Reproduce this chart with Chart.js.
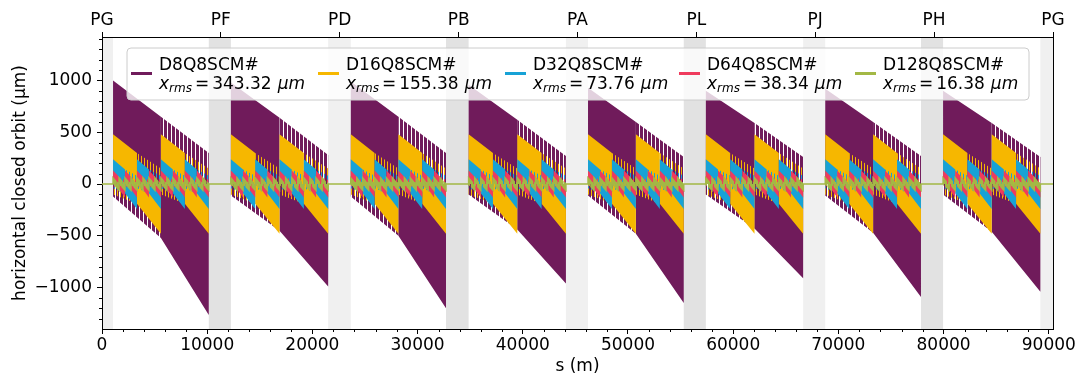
<!DOCTYPE html>
<html>
<head>
<meta charset="utf-8">
<script src="https://cdn.jsdelivr.net/npm/chart.js@4.4.1/dist/chart.umd.min.js"></script>
<style>
  html, body { margin: 0; padding: 0; background: #fff; }
  #wrap { width: 1077px; height: 375px; }
</style>
</head>
<body>
<div id="wrap"><canvas id="orbitChart"></canvas></div>
<script>
// interaction points on the ring (top axis)
const ipNames = ['PG', 'PF', 'PD', 'PB', 'PA', 'PL', 'PJ', 'PH', 'PG'];
const ipPositions = [0, 11300, 22600, 33900, 45200, 56500, 67800, 79100, 90400];
const ringLength = 90400;

// tick values of the two main axes
const xTicks = [0, 10000, 20000, 30000, 40000, 50000, 60000, 70000, 80000, 90000];
const yTicks = [-1000, -500, 0, 500, 1000];

// arcs, the straight sections between them are shaded
const arcStart = [1050, 12250, 23650, 34850, 46200, 57400, 68750, 79950];
const arcEnd = [10150, 21500, 32700, 44100, 55300, 66650, 77850, 89200];

const seriesNames = ['D8Q8SCM#', 'D16Q8SCM#', 'D32Q8SCM#', 'D64Q8SCM#', 'D128Q8SCM#'];
const xrmsValues = ['343.32', '155.38', '73.76', '38.34', '16.38'];
const seriesColors = ['#701b5b', '#f6b700', '#17a2d6', '#ef3b5d', '#a3b845'];
const periodsPerArc = [1, 2, 4, 8, 16];

// D8 orbit envelope in every arc (um)
const d8TopStart = [1000, 980, 990, 960, 930, 900, 920, 900];
const d8TopMid = [650, 640, 650, 620, 600, 590, 600, 590];
const d8TopEnd = [300, 280, 300, 270, 260, 260, 270, 260];
const d8BotStart = [-120, -110, -120, -100, -110, -100, -110, -100];
const d8BotMid = [-520, -450, -500, -440, -480, -430, -470, -460];
const d8BotEnd = [-1265, -990, -1200, -960, -1150, -910, -1090, -1040];

// other cases: same envelope in every period
// [top start, top mid, top end, bottom start, bottom mid, bottom end]
const d16Env = [480, 300, 150, -100, -190, -480];
const d32Env = [240, 140, 80, -40, -90, -240];
const d64Env = [130, 70, 40, -20, -50, -130];
const d128Env = [60, 25, 15, -15, -25, -60];

const FONT = 'DejaVu Sans';

function envFor(i, k) {
  if (i === 0) {
    return [d8TopStart[k], d8TopMid[k], d8TopEnd[k], d8BotStart[k], d8BotMid[k], d8BotEnd[k]];
  }
  return [d16Env, d32Env, d64Env, d128Env][i - 1];
}

// dense side: upper in the first half of a period, lower in the second half
function buildLines(i) {
  const dense = [{x: 0, y: 0}];
  const sparse = [{x: 0, y: 0}];
  for (let k = 0; k < arcStart.length; k++) {
    const [t0, tm, t1, b0, bm, b1] = envFor(i, k);
    const len = (arcEnd[k] - arcStart[k]) / periodsPerArc[i];
    dense.push({x: arcStart[k], y: 0});
    sparse.push({x: arcStart[k], y: 0});
    for (let j = 0; j < periodsPerArc[i]; j++) {
      const p0 = arcStart[k] + j * len;
      const pm = p0 + len / 2;
      const p1 = p0 + len;
      dense.push({x: p0, y: t0}, {x: pm, y: tm}, {x: pm, y: bm}, {x: p1, y: b1});
      sparse.push({x: p0, y: b0}, {x: pm, y: bm}, {x: pm, y: tm}, {x: p1, y: t1});
    }
    dense.push({x: arcEnd[k], y: 0});
    sparse.push({x: arcEnd[k], y: 0});
  }
  dense.push({x: ringLength, y: 0});
  sparse.push({x: ringLength, y: 0});
  return {dense, sparse};
}

// vertical stripes for the side the orbit only visits briefly
function stripes(color, on, period) {
  const c = document.createElement('canvas');
  c.width = period;
  c.height = 4;
  const g = c.getContext('2d');
  g.fillStyle = color;
  g.fillRect(0, 0, on, 4);
  return g.createPattern(c, 'repeat');
}

const stripeOn = [3, 1, 1, 1, 2];
const stripePeriod = [4, 3, 3, 3, 3];
const datasets = [];
seriesNames.forEach((name, i) => {
  const lines = buildLines(i);
  datasets.push({
    label: name + ' (sparse)',
    data: lines.sparse,
    backgroundColor: stripes(seriesColors[i], stripeOn[i], stripePeriod[i]),
    borderWidth: 0,
    fill: 'origin',
    pointRadius: 0,
    order: 20 - 2 * i
  });
  datasets.push({
    label: name,
    data: lines.dense,
    backgroundColor: seriesColors[i],
    borderColor: seriesColors[i],
    borderWidth: i === 4 ? 1.5 : 0,
    fill: 'origin',
    pointRadius: 0,
    order: 19 - 2 * i
  });
});

// shaded straight sections
const bandPlugin = {
  id: 'bands',
  beforeDraw(chart) {
    const {ctx, chartArea: a, scales: {x}} = chart;
    const gaps = [[-2000, arcStart[0]]];
    for (let k = 0; k < arcStart.length - 1; k++) gaps.push([arcEnd[k], arcStart[k + 1]]);
    gaps.push([arcEnd[arcEnd.length - 1], ringLength + 2000]);
    ctx.save();
    ctx.beginPath();
    ctx.rect(a.left, a.top, a.right - a.left, a.bottom - a.top);
    ctx.clip();
    gaps.forEach((g, i) => {
      ctx.fillStyle = i % 2 ? '#e2e2e2' : '#f0f0f0';
      const l = x.getPixelForValue(g[0]);
      const r = x.getPixelForValue(g[1]);
      ctx.fillRect(l, a.top, r - l, a.bottom - a.top);
    });
    ctx.restore();
  }
};

// legend drawn inside the plot, over the data
const legendPlugin = {
  id: 'orbitLegend',
  afterDatasetsDraw(chart) {
    const {ctx, chartArea: a} = chart;
    const bx = a.left + 25, by = a.top + 11, bw = 902, bh = 52, r = 4;
    ctx.save();
    ctx.beginPath();
    ctx.moveTo(bx + r, by);
    ctx.arcTo(bx + bw, by, bx + bw, by + bh, r);
    ctx.arcTo(bx + bw, by + bh, bx, by + bh, r);
    ctx.arcTo(bx, by + bh, bx, by, r);
    ctx.arcTo(bx, by, bx + bw, by, r);
    ctx.closePath();
    ctx.fillStyle = 'rgba(255,255,255,0.8)';
    ctx.fill();
    ctx.strokeStyle = '#cccccc';
    ctx.lineWidth = 1;
    ctx.stroke();

    const textX = [32, 219, 406, 580, 756];
    ctx.fillStyle = '#000';
    ctx.textBaseline = 'alphabetic';
    seriesNames.forEach((name, i) => {
      const tx = bx + textX[i];
      ctx.strokeStyle = seriesColors[i];
      ctx.lineWidth = 3;
      ctx.beginPath();
      ctx.moveTo(tx - 28, by + 25.5);
      ctx.lineTo(tx - 7, by + 25.5);
      ctx.stroke();

      ctx.font = '17px "' + FONT + '"';
      ctx.fillText(name, tx, by + 22);

      let cx = tx;
      const base = by + 41;
      ctx.font = 'italic 17px "' + FONT + '"';
      ctx.fillText('x', cx, base);
      cx += ctx.measureText('x').width;
      ctx.font = 'italic 12px "' + FONT + '"';
      ctx.fillText('rms', cx, base + 3);
      cx += ctx.measureText('rms').width + 3;
      ctx.font = '17px "' + FONT + '"';
      ctx.fillText('=', cx, base);
      cx += ctx.measureText('=').width + 3;
      ctx.fillText(xrmsValues[i], cx, base);
      cx += ctx.measureText(xrmsValues[i]).width + 6;
      ctx.font = 'italic 17px "' + FONT + '"';
      ctx.fillText('\u03bcm', cx, base);
    });
    ctx.restore();
  }
};

// right spine and minor ticks
const framePlugin = {
  id: 'frame',
  afterDraw(chart) {
    const {ctx, chartArea: a, scales: {x, y}} = chart;
    ctx.save();
    ctx.strokeStyle = '#000';
    ctx.lineWidth = 1;
    ctx.beginPath();
    const rx = Math.round(a.right) + 0.5;
    ctx.moveTo(rx, a.top);
    ctx.lineTo(rx, a.bottom);
    for (let v = 2000; v < ringLength; v += 2000) {
      if (v % 10000 === 0) continue;
      const px = Math.round(x.getPixelForValue(v)) + 0.5;
      ctx.moveTo(px, a.bottom);
      ctx.lineTo(px, a.bottom + 3);
    }
    for (let v = -1300; v <= 1400; v += 100) {
      if (v % 500 === 0) continue;
      const py = Math.round(y.getPixelForValue(v)) + 0.5;
      ctx.moveTo(a.left, py);
      ctx.lineTo(a.left - 3, py);
    }
    ctx.stroke();
    ctx.restore();
  }
};

const tickFont = {family: FONT, size: 17};

new Chart(document.getElementById('orbitChart'), {
  type: 'line',
  data: {datasets: datasets},
  options: {
    responsive: true,
    maintainAspectRatio: false,
    animation: false,
    layout: {padding: {left: 0, right: 24, top: 0, bottom: 0}},
    plugins: {legend: {display: false}, tooltip: {enabled: false}},
    elements: {line: {tension: 0}},
    scales: {
      x: {
        type: 'linear',
        position: 'bottom',
        min: 0,
        max: ringLength,
        afterFit: (s) => { s.height = 46; },
        afterBuildTicks: (s) => { s.ticks = xTicks.map(v => ({value: v})); },
        ticks: {
          autoSkip: false,
          maxRotation: 0,
          padding: 1,
          color: '#000',
          font: tickFont,
          callback: (v) => String(v)
        },
        grid: {drawOnChartArea: false, tickLength: 5, tickColor: '#000'},
        border: {color: '#000'},
        title: {display: true, text: 's (m)', color: '#000', font: tickFont, padding: {top: 0, bottom: -2}}
      },
      x2: {
        type: 'linear',
        position: 'top',
        min: 0,
        max: ringLength,
        afterFit: (s) => { s.height = 37; },
        afterBuildTicks: (s) => { s.ticks = ipPositions.map(v => ({value: v})); },
        ticks: {
          autoSkip: false,
          maxRotation: 0,
          padding: 1,
          color: '#000',
          font: tickFont,
          callback: (v, i) => ipNames[i]
        },
        grid: {drawOnChartArea: false, tickLength: 5, tickColor: '#000'},
        border: {color: '#000'}
      },
      y: {
        type: 'linear',
        min: -1400,
        max: 1420,
        afterFit: (s) => { s.width = 102; },
        afterBuildTicks: (s) => { s.ticks = yTicks.map(v => ({value: v})); },
        ticks: {
          padding: 5,
          color: '#000',
          font: tickFont,
          callback: (v) => v < 0 ? '\u2212' + Math.abs(v) : String(v)
        },
        grid: {drawOnChartArea: false, tickLength: 5, tickColor: '#000'},
        border: {color: '#000'},
        title: {display: true, text: 'horizontal closed orbit (\u03bcm)', color: '#000', font: tickFont, padding: {top: 10, bottom: 0}}
      }
    }
  },
  plugins: [bandPlugin, legendPlugin, framePlugin]
});
</script>
</body>
</html>
